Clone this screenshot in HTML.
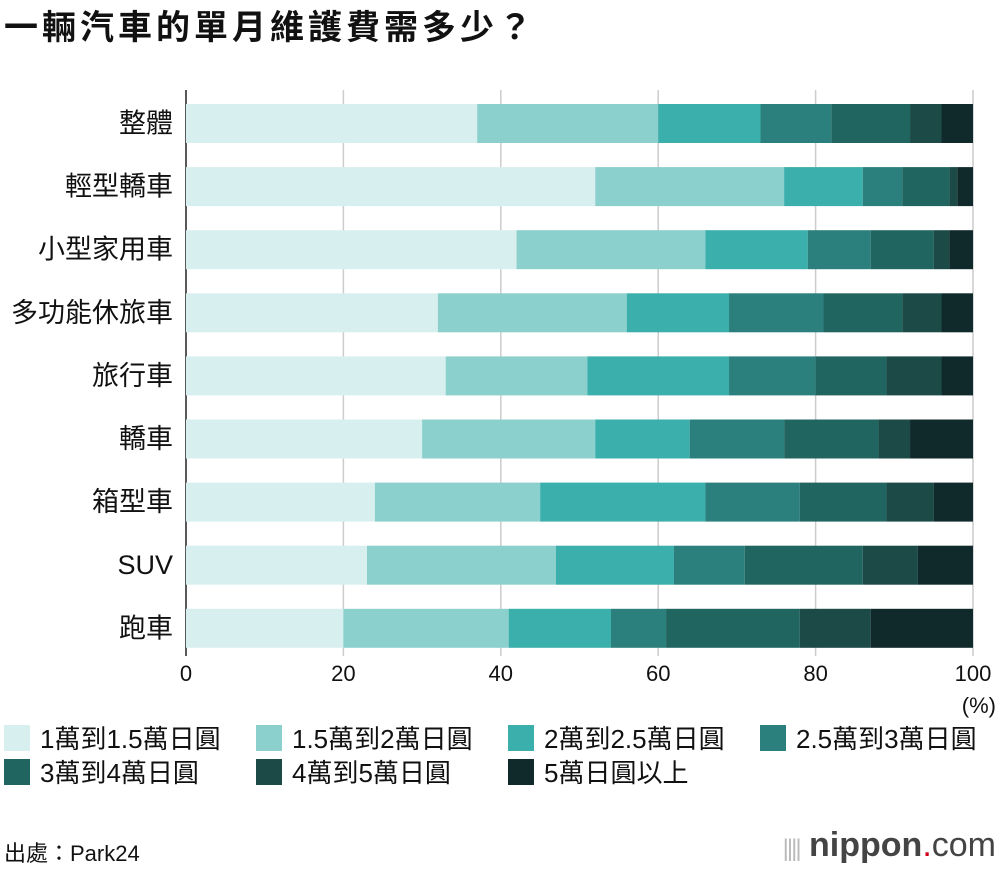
<!DOCTYPE html>
<html><head><meta charset="utf-8">
<style>
body{margin:0;width:1000px;height:870px;background:#fff;font-family:"Liberation Sans","Noto Sans CJK TC",sans-serif;color:#111;overflow:hidden;position:relative}
.t{position:absolute;white-space:nowrap}
</style></head>
<body>
<div class="t" style="left:4px;top:0px;font-size:34px;letter-spacing:4px;font-weight:bold;font-family:'Liberation Sans','Noto Sans CJK TC',sans-serif">一輛汽車的單月維護費需多少？</div>
<svg id="chart" width="1000" height="870" style="position:absolute;left:0;top:0"></svg>
<div class="t" style="left:4px;top:836px;font-size:22px">出處：Park24</div>
<div class="t" style="right:4px;top:826px;font-size:34px;color:#444"><span style="color:#bbb;font-size:24px;letter-spacing:-2px">||||</span> <b>nippon</b><span style="color:#d0021b">.</span><span style="font-weight:normal">com</span></div>
<script>
const categories=["整體","輕型轎車","小型家用車","多功能休旅車","旅行車","轎車","箱型車","SUV","跑車"];
const seriesNames=["1萬到1.5萬日圓","1.5萬到2萬日圓","2萬到2.5萬日圓","2.5萬到3萬日圓","3萬到4萬日圓","4萬到5萬日圓","5萬日圓以上"];
const s1=[37,52,42,32,33,30,24,23,20];
const s2=[23,24,24,24,18,22,21,24,21];
const s3=[13,10,13,13,18,12,21,15,13];
const s4=[9,5,8,12,11,12,12,9,7];
const s5=[10,6,8,10,9,12,11,15,17];
const s6=[4,1,2,5,7,4,6,7,9];
const s7=[4,2,3,4,4,8,5,7,13];
const ticks=[0,20,40,60,80,100];
const series=[s1,s2,s3,s4,s5,s6,s7];
const colors=["#d8efef","#8bd0cc","#3aafab","#2b807d","#216560","#1b4a47","#10292a"];
const NS="http://www.w3.org/2000/svg";
const svg=document.getElementById('chart');
const x=v=>186+v*7.87;
const y=i=>104+i*63.1;
const bh=39;
function mk(t,a){const e=document.createElementNS(NS,t);for(const k in a)e.setAttribute(k,a[k]);svg.appendChild(e);return e;}
ticks.forEach(t=>{
 const l=mk('line',{x1:x(t),x2:x(t),y1:90,y2:656,stroke:t===0?'#222':'#ccc','stroke-width':1.5});
 
 
 const tx=mk('text',{x:x(t),y:681,'font-size':22,'text-anchor':'middle',fill:'#111'});
 tx.textContent=t;
 
 
});
const pc=mk('text',{x:996,y:713,'font-size':22,'text-anchor':'end',fill:'#111'});pc.textContent='(%)';


categories.forEach((c,i)=>{
 const lb=mk('text',{x:173,y:y(i)+bh/2+9,'font-size':27,'text-anchor':'end',fill:'#111'});
 lb.textContent=c;
 
 
 let acc=0;
 series.forEach((s,j)=>{
  const r=mk('rect',{x:x(acc),y:y(i),width:x(acc+s[i])-x(acc),height:bh,fill:colors[j]});
  
  
  acc+=s[i];
 });
});
seriesNames.forEach((n,j)=>{
 const lx=4+(j%4)*252, ly=725+Math.floor(j/4)*34;
 const r=mk('rect',{x:lx,y:ly,width:26,height:26,fill:colors[j]});
 
 
 const t=mk('text',{x:lx+36,y:ly+23,'font-size':26,fill:'#111'});
 t.textContent=n;
 
 
});
</script>
</body></html>
